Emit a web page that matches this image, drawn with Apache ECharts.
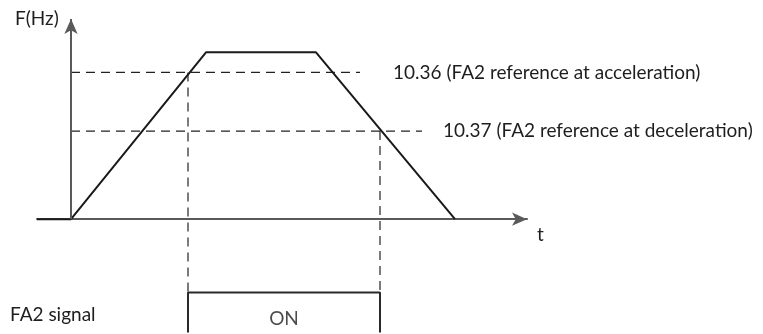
<!DOCTYPE html>
<html>
<head>
<meta charset="utf-8">
<script src="https://cdn.jsdelivr.net/npm/echarts@6/dist/echarts.min.js"></script>
<style>
  html, body { margin: 0; padding: 0; background: #fff; }
  #chart { width: 763px; height: 334px; }
</style>
</head>
<body>
<div id="chart"></div>
<script>
// frequency profile (time in arbitrary units, F in Hz)
const timeKnots = [-34, 0, 135, 245, 384]
const freqKnots = [0, 0, 50, 50, 0]
// FA2 reference levels
const accelRef = 44
const decelRef = 26.4
const accelLineEnd = 289
const decelLineEnd = 351
// FA2 signal switching points
const signalOn = 117
const signalOff = 309
const signalLevel = -22
const signalFloor = -34
const onLabelLevel = -29.8
const labels = {
  accel: '10.36 (FA2 reference at acceleration)',
  decel: '10.37 (FA2 reference at deceleration)',
  on: 'ON'
}

const font = 'Lato, "Open Sans", sans-serif'
const fs = 19
const ink = '#1e1e1e'
const axisGray = '#5a5a5a'

let myChart = echarts.init(document.getElementById('chart'))

const dashed = (data, extra) => Object.assign({
  type: 'line',
  data: data,
  symbol: 'none',
  silent: true,
  lineStyle: { color: '#222', width: 1.2, type: [9, 6] }
}, extra || {})

myChart.setOption({
  animation: false,
  backgroundColor: '#fff',
  grid: { left: 37, right: 236, top: 19, bottom: 1.4 },
  xAxis: {
    type: 'value',
    min: -34,
    max: 456,
    axisLine: {
      onZero: true,
      symbol: ['none', 'arrow'],
      symbolSize: [10, 15],
      lineStyle: { color: axisGray, width: 2 }
    },
    axisTick: { show: false },
    axisLabel: { show: false },
    splitLine: { show: false }
  },
  yAxis: {
    type: 'value',
    min: signalFloor,
    max: 60,
    axisLine: { show: false },
    axisTick: { show: false },
    axisLabel: { show: false },
    splitLine: { show: false }
  },
  graphic: [
    { type: 'text', left: 15, top: 9, style: { text: 'F(Hz)', font: fs + 'px ' + font, fill: ink } },
    { type: 'text', left: 537, top: 225, style: { text: 't', font: fs + 'px ' + font, fill: ink } },
    { type: 'text', left: 10, top: 305, style: { text: 'FA2 signal', font: fs + 'px ' + font, fill: ink } }
  ],
  series: [
    // y axis drawn as an arrow from F=0 up
    {
      type: 'line',
      data: [],
      silent: true,
      markLine: {
        silent: true,
        symbol: ['none', 'arrow'],
        symbolSize: [10, 15],
        label: { show: false },
        lineStyle: { color: axisGray, width: 2, type: 'solid' },
        data: [[{ coord: [0, 0] }, { coord: [0, 60] }]]
      }
    },
    dashed([[0, accelRef], [accelLineEnd, accelRef]], {
      endLabel: { show: true, formatter: labels.accel, distance: 33, color: ink, fontSize: fs, fontFamily: font }
    }),
    dashed([[0, decelRef], [decelLineEnd, decelRef]], {
      endLabel: { show: true, formatter: labels.decel, distance: 21, color: ink, fontSize: fs, fontFamily: font }
    }),
    dashed([[signalOn, accelRef], [signalOn, signalLevel]]),
    dashed([[signalOff, decelRef], [signalOff, signalLevel]]),
    {
      type: 'line',
      data: timeKnots.map((t, i) => [t, freqKnots[i]]),
      symbol: 'none',
      silent: true,
      lineStyle: { color: '#1a1a1a', width: 2 }
    },
    {
      type: 'line',
      data: [[signalOn, signalFloor], [signalOn, signalLevel], [signalOff, signalLevel], [signalOff, signalFloor]],
      symbol: 'none',
      silent: true,
      clip: false,
      lineStyle: { color: '#2a2a2a', width: 2 }
    },
    {
      type: 'scatter',
      data: [[(signalOn + signalOff) / 2, onLabelLevel]],
      symbolSize: 0,
      silent: true,
      label: { show: true, position: 'inside', formatter: labels.on, color: ink, fontSize: fs, fontFamily: font }
    }
  ]
})
</script>
</body>
</html>
